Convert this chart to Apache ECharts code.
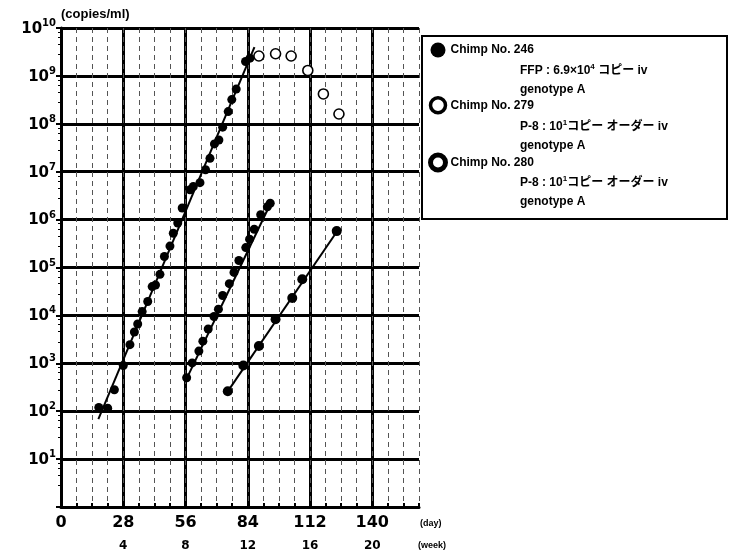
<!DOCTYPE html>
<html><head><meta charset="utf-8">
<script src="https://cdn.jsdelivr.net/npm/echarts@6/dist/echarts.min.js"></script>
<style>html,body{margin:0;padding:0;background:#fff}#c{width:731px;height:557px}</style>
</head><body><div id="c"></div>
<script>
const FONT = '"Liberation Sans", Arial, "Noto Sans CJK JP", sans-serif';
const NUMFONT = '"DejaVu Sans", "Liberation Sans", sans-serif';

// Chimp No. 246 (filled circles)
const days246 = [17, 21, 24, 28, 31, 33, 34.5, 36.5, 39, 41, 42.5, 44.5, 46.5, 49, 50.5, 52.5, 54.5, 58, 59.5, 62.5, 65, 67, 69, 71, 72.7, 75.2, 76.8, 78.8, 83, 85];
const vals246 = [120, 115, 280, 900, 2450, 4500, 6600, 12000, 19500, 40000, 43000, 72000, 170000, 280000, 520000, 850000, 1750000, 4200000, 4900000, 5900000, 11000000, 19000000, 38000000, 46000000, 85000000, 180000000, 320000000, 530000000, 2000000000, 2350000000];
// Chimp No. 246, later samples (open circles)
const days246late = [89, 96.5, 103.5, 111, 118, 125];
const vals246late = [2600000000, 2900000000, 2600000000, 1300000000, 420000000, 160000000];
// Chimp No. 279
const days279 = [56.5, 59, 62, 63.8, 66.2, 68.8, 70.8, 72.7, 75.7, 77.8, 80, 83.1, 84.8, 86.9, 89.8, 92.8, 94.1];
const vals279 = [500, 1020, 1800, 2900, 5200, 9500, 13500, 26000, 46000, 79000, 140000, 260000, 390000, 630000, 1260000, 1850000, 2200000];
// Chimp No. 280
const days280 = [75, 82, 89, 96.5, 104, 108.5, 124];
const vals280 = [260, 900, 2300, 8300, 23000, 57000, 575000];
// fitted lines (end points)
const fit246Days = [16.8, 87];
const fit246Vals = [68, 4000000000];
const fit279Days = [56.5, 94.5];
const fit279Vals = [480, 2300000];
const fit280Days = [75, 124.5];
const fit280Vals = [260, 600000];

const legendNames = ['Chimp No. 246', 'Chimp No. 279', 'Chimp No. 280'];
const legendSub = [
  ['{n|FFP : 6.9×10}{s|4}{n| コピー iv}', '{n|genotype A}'],
  ['{n|P-8 : 10}{s|1}{n|コピー オーダー iv}', '{n|genotype A}'],
  ['{n|P-8 : 10}{s|1}{n|コピー オーダー iv}', '{n|genotype A}']
];

const zip = (a, b) => a.map((d, i) => [d, b[i]]);

const chart = echarts.init(document.getElementById('c'));
const subRich = {
  n: {fontFamily: FONT, fontSize: 12, fontWeight: 'bold', color: '#000', verticalAlign: 'bottom', lineHeight: 15},
  s: {fontFamily: FONT, fontSize: 8, fontWeight: 'bold', color: '#000', verticalAlign: 'bottom', padding: [0, 0, 6, 0], lineHeight: 8}
};
const graphics = [{
  type: 'rect', shape: {x: 422, y: 36, width: 305, height: 183},
  style: {fill: '#fff', stroke: '#000', lineWidth: 2}, z: 0
}, {
  type: 'text', x: 420, y: 524, z: 10,
  style: {text: '(day)', fontFamily: FONT, fontSize: 9, fontWeight: 'bold', fill: '#000', verticalAlign: 'middle', align: 'left'}
}, {
  type: 'text', x: 418, y: 546, z: 10,
  style: {text: '(week)', fontFamily: FONT, fontSize: 9, fontWeight: 'bold', fill: '#000', verticalAlign: 'middle', align: 'left'}
}];
const rowY = [[69, 88], [125, 144], [181, 200]];
legendSub.forEach((lines, i) => {
  lines.forEach((t, j) => {
    graphics.push({type: 'text', x: 520, y: rowY[i][j], z: 10,
      style: {text: t, rich: subRich, verticalAlign: 'middle', align: 'left'}});
  });
});

const lineSeries = (name, d, v) => ({
  name, type: 'line', data: zip(d, v), symbol: 'none', silent: true,
  lineStyle: {color: '#000', width: 2}, z: 2, xAxisIndex: 0
});

chart.setOption({
  animation: false,
  backgroundColor: '#fff',
  grid: {left: 61, right: 312, top: 28, bottom: 50},
  legend: {
    orient: 'vertical', left: 428, top: 42, padding: 0,
    itemWidth: 15, itemHeight: 15, itemGap: 38, icon: 'circle',
    textStyle: {fontFamily: FONT, fontSize: 12, fontWeight: 'bold', color: '#000', lineHeight: 16},
    data: [
      {name: legendNames[0], itemStyle: {color: '#000'}},
      {name: legendNames[1], itemStyle: {color: '#fff', borderColor: '#000', borderWidth: 3.5}},
      {name: legendNames[2], itemStyle: {color: '#fff', borderColor: '#000', borderWidth: 5}}
    ],
    selectedMode: false, z: 10
  },
  graphic: graphics,
  xAxis: [
    {
      type: 'value', min: 0, max: 161, interval: 28, position: 'bottom',
      axisLine: {show: true, onZero: false, lineStyle: {color: '#000', width: 3}},
      axisTick: {show: false},
      axisLabel: {margin: 8, color: '#000', fontFamily: NUMFONT, fontSize: 16, fontWeight: 'bold',
        formatter: v => (v % 28 === 0 ? String(v) : '')},
      splitLine: {show: true, showMaxLine: false, lineStyle: {color: '#000', width: 3}}
    },
    {
      type: 'value', min: 0, max: 23, interval: 4, position: 'bottom', offset: 25,
      axisLine: {show: false}, axisTick: {show: false}, splitLine: {show: false},
      axisLabel: {margin: 8, color: '#000', fontFamily: NUMFONT, fontSize: 12, fontWeight: 'bold',
        formatter: v => (v > 0 && v % 4 === 0 ? String(v) : '')}
    },
    {
      type: 'value', min: 0, max: 161, interval: 7, position: 'bottom',
      axisLine: {show: false}, axisLabel: {show: false},
      axisTick: {show: true, inside: true, length: 4, lineStyle: {color: '#000', width: 2}},
      splitLine: {show: true, lineStyle: {color: '#555', width: 1, type: [5, 4]}}
    }
  ],
  yAxis: {
    type: 'log', logBase: 10, min: 1, max: 1e10, interval: 1, splitNumber: 10,
    axisLine: {show: true, lineStyle: {color: '#000', width: 3}},
    axisTick: {show: true, length: 5, lineStyle: {color: '#000', width: 2}},
    minorTick: {show: true, splitNumber: 5, length: 3, lineStyle: {color: '#000', width: 1}},
    splitLine: {show: true, lineStyle: {color: '#000', width: 3}},
    axisLabel: {
      margin: 5, color: '#000',
      formatter: v => (v <= 1 ? '' : '{b|10}{s|' + Math.round(Math.log10(v)) + '}'),
      rich: {
        b: {fontFamily: NUMFONT, fontSize: 15, fontWeight: 'bold', color: '#000', verticalAlign: 'bottom', lineHeight: 17},
        s: {fontFamily: NUMFONT, fontSize: 10, fontWeight: 'bold', color: '#000', verticalAlign: 'bottom', padding: [0, 0, 8, 0], lineHeight: 10}
      }
    },
    name: '(copies/ml)', nameLocation: 'end', nameGap: 7,
    nameTextStyle: {color: '#000', fontFamily: FONT, fontSize: 13, fontWeight: 'bold', align: 'left'}
  },
  series: [
    lineSeries('fit246', fit246Days, fit246Vals),
    lineSeries('fit279', fit279Days, fit279Vals),
    lineSeries('fit280', fit280Days, fit280Vals),
    {name: legendNames[0], type: 'scatter', data: zip(days246, vals246), symbol: 'circle', symbolSize: 9,
      itemStyle: {color: '#000', opacity: 1}, z: 3},
    {name: 'Chimp No. 246 late', type: 'scatter', data: zip(days246late, vals246late), symbol: 'circle', symbolSize: 10,
      itemStyle: {color: '#fff', borderColor: '#000', borderWidth: 1.6, opacity: 1}, z: 3},
    {name: legendNames[1], type: 'scatter', data: zip(days279, vals279), symbol: 'circle', symbolSize: 9,
      itemStyle: {color: '#000', opacity: 1}, z: 3},
    {name: legendNames[2], type: 'scatter', data: zip(days280, vals280), symbol: 'circle', symbolSize: 10,
      itemStyle: {color: '#000', opacity: 1}, z: 3}
  ]
});
</script>
</body></html>
